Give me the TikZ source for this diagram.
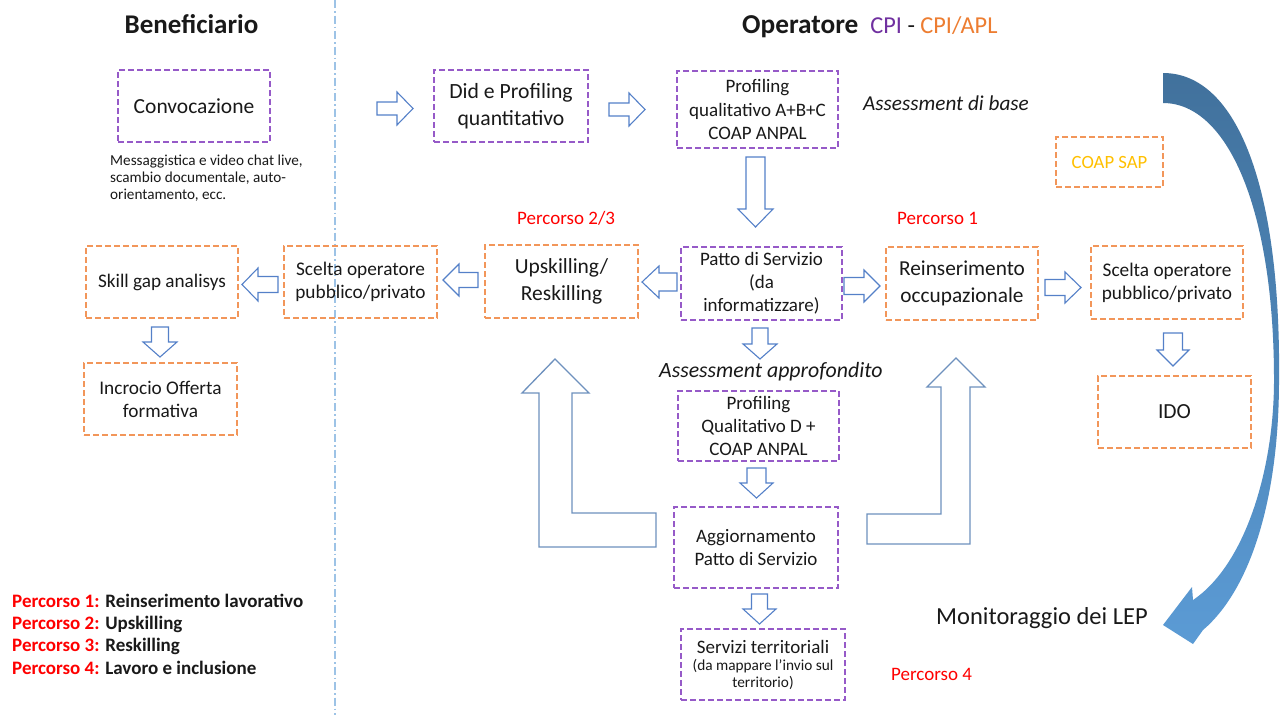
\documentclass[tikz,border=0pt]{standalone}
\usepackage{fontspec}
\setmainfont{Carlito}
\definecolor{boxpurple}{RGB}{150,90,200}
\definecolor{boxorange}{RGB}{242,150,90}
\definecolor{cpipurple}{RGB}{112,48,160}
\definecolor{cpiorange}{RGB}{237,125,49}
\definecolor{coapgold}{RGB}{255,192,0}
\definecolor{pred}{RGB}{255,0,0}
\definecolor{txt}{RGB}{25,25,25}
\definecolor{sepblue}{RGB}{157,195,230}
\definecolor{arrblue}{RGB}{84,128,200}
\definecolor{lblue}{RGB}{110,145,190}
\definecolor{bigdark}{RGB}{65,113,156}
\definecolor{biglight}{RGB}{91,155,213}
\newcommand{\fsz}[2]{\fontsize{#1}{#2}\selectfont}
\newcommand{\harr}[6]{\draw[barrow] (#1,{#3-#5}) -- (#6,{#3-#5}) -- (#6,{#3-#4}) -- (#2,#3) -- (#6,{#3+#4}) -- (#6,{#3+#5}) -- (#1,{#3+#5}) -- cycle;}
\newcommand{\varr}[6]{\draw[barrow] ({#1-#5},#2) -- ({#1-#5},#6) -- ({#1-#4},#6) -- (#1,#3) -- ({#1+#4},#6) -- ({#1+#5},#6) -- ({#1+#5},#2) -- cycle;}
\begin{document}
\begin{tikzpicture}[x=1pt,y=-1pt,
  every node/.style={text=txt},
  pbox/.style={draw=boxpurple, dash pattern=on 6pt off 3pt, line width=1.2pt, align=center, inner sep=0pt},
  obox/.style={draw=boxorange, dash pattern=on 6pt off 3pt, line width=1.2pt, align=center, inner sep=0pt},
  barrow/.style={draw=arrblue, line width=1.1pt, fill=white, line join=miter},
  larrow/.style={draw=lblue, line width=1.3pt, fill=white, line join=miter},
  lbl/.style={inner sep=0pt, anchor=base west}]
\useasboundingbox (0,0) rectangle (1284,715);
\fill[white] (0,0) rectangle (1284,715);

% separator
\draw[sepblue, line width=1.2pt, dash pattern=on 8pt off 3pt on 1.5pt off 3pt] (335,0) -- (335,715);

% titles
\node[lbl, anchor=base, font=\fsz{27}{32}\bfseries] (tben) at (191.5,33) {Beneficiario};
\node[lbl] (top) at (742,33) {\fsz{27.3}{32}\bfseries Operatore\hspace{12pt}\mdseries\fsz{24.3}{29}\textcolor{cpipurple}{CPI} - \textcolor{cpiorange}{CPI/APL}};

% boxes
\node[pbox, minimum width=152pt, minimum height=72pt, font=\fsz{21.5}{26}] (conv) at (194,106) {Convocazione};
\node[pbox, minimum width=154pt, minimum height=72pt, font=\fsz{21.7}{27}] (did) at (511,106) {Did e Profiling\\quantitativo};
\node[pbox, minimum width=161pt, minimum height=77pt, font=\fsz{19}{23.5}] (prof1) at (757.5,109.5) {Profiling\\qualitativo A+B+C\\COAP ANPAL};
\node[obox, minimum width=107pt, minimum height=50pt, font=\fsz{18.7}{22}, text=coapgold] (coap) at (1109.5,162) {COAP SAP};
\node[obox, minimum width=152pt, minimum height=72pt, font=\fsz{19.2}{23}] (skill) at (162,282) {Skill gap analisys};
\node[obox, minimum width=153pt, minimum height=72pt, font=\fsz{19.3}{22.5}] (sceltaL) at (360.5,282) {Scelta operatore\\pubblico/privato};
\node[obox, minimum width=153pt, minimum height=72pt, font=\fsz{19.3}{23}] (incr) at (160.5,399) {Incrocio Offerta\\formativa};
\node[obox, minimum width=153pt, minimum height=73pt, font=\fsz{21.5}{27}] (upsk) at (561.5,281.5) {Upskilling/\\Reskilling};
\node[pbox, minimum width=161pt, minimum height=73pt, font=\fsz{19}{23}] (patto) at (761.5,283.5) {Patto di Servizio\\(da\\informatizzare)};
\node[obox, minimum width=152pt, minimum height=73pt, font=\fsz{21.3}{27}] (reins) at (962,283.5) {Reinserimento\\occupazionale};
\node[obox, minimum width=152pt, minimum height=73pt, font=\fsz{19.3}{23}] (sceltaR) at (1167,282.5) {Scelta operatore\\pubblico/privato};
\node[obox, minimum width=153pt, minimum height=72pt, font=\fsz{21.5}{26}] (ido) at (1174.5,412) {IDO};
\node[pbox, minimum width=161pt, minimum height=70pt, font=\fsz{19}{23}] (prof2) at (758.5,426) {Profiling\\Qualitativo D +\\COAP ANPAL};
\node[pbox, minimum width=164pt, minimum height=81pt, font=\fsz{19}{23}] (aggi) at (756,547.5) {Aggiornamento\\Patto di Servizio};
\node[pbox, minimum width=164pt, minimum height=71pt, font=\fsz{15.3}{17}] (serv) at (763,664.5) {{\fsz{19}{20}Servizi territoriali}\\(da mappare l’invio sul\\territorio)};

% caption under Convocazione
\node[lbl, font=\fsz{15.2}{17}] (cap1) at (110,165) {Messaggistica e video chat live,};
\node[lbl, font=\fsz{15.2}{17}] (cap2) at (110,182) {scambio documentale, auto-};
\node[lbl, font=\fsz{15.2}{17}] (cap3) at (110,199) {orientamento, ecc.};

% labels
\node[lbl, font=\fsz{21.2}{24}\itshape] (abase) at (863,110) {Assessment di base};
\node[lbl, font=\fsz{21.8}{24}\itshape] (aappr) at (659,377) {Assessment approfondito};
\node[lbl, font=\fsz{19}{22}, text=pred] (p23) at (517,224) {Percorso 2/3};
\node[lbl, font=\fsz{19}{22}, text=pred] (p1) at (897,224) {Percorso 1};
\node[lbl, font=\fsz{19}{22}, text=pred] (p4) at (891,680) {Percorso 4};
\node[lbl, font=\fsz{24.5}{28}] (mon) at (936,624) {Monitoraggio dei LEP};

% legend
\node[lbl, font=\fsz{19}{22}\bfseries] (leg1) at (12,607) {\textcolor{pred}{Percorso 1:} Reinserimento lavorativo};
\node[lbl, font=\fsz{19}{22}\bfseries] (leg2) at (12,629) {\textcolor{pred}{Percorso 2:} Upskilling};
\node[lbl, font=\fsz{19}{22}\bfseries] (leg3) at (12,651) {\textcolor{pred}{Percorso 3:} Reskilling};
\node[lbl, font=\fsz{19}{22}\bfseries] (leg4) at (12,674) {\textcolor{pred}{Percorso 4:} Lavoro e inclusione};

% small block arrows (horizontal): tail, tip, cy, half height, half shaft, head base
\harr{377}{413}{108.5}{16.5}{6.5}{397}
\harr{609}{645}{109.5}{16.5}{6.5}{629}
\harr{844}{880}{286}{16}{8.5}{864}
\harr{1045}{1081}{287.5}{15.5}{8}{1065}
\harr{278}{242}{284.5}{16.5}{8}{258}
\harr{478}{443}{280}{16}{7.5}{459}
\harr{677}{642}{282}{16}{9}{659}
% vertical: cx, tail, tip, half width, half shaft, head base
\varr{755.5}{157}{227}{17.5}{9.5}{209}
\varr{160}{327}{357}{17}{8.5}{342}
\varr{1173}{333}{366}{16}{9.5}{350}
\varr{760}{328}{359}{17}{8}{344}
\varr{756.5}{468}{498}{16.5}{9.5}{483}
\varr{759.5}{594}{624}{16.5}{8}{609}

% L-shaped arrows
\draw[larrow] (539,547) -- (656,547) -- (656,513) -- (572,513) -- (572,393) -- (589,393) -- (555,359) -- (522,393) -- (539,393) -- cycle;
\draw[larrow] (867,514) -- (941,514) -- (941,387) -- (927,387) -- (956,358) -- (985,387) -- (970,387) -- (970,544) -- (867,544) -- cycle;

% big curved arrow
\shade[top color=bigdark, middle color=bigdark!70!biglight, bottom color=biglight]
  (1163,73) .. controls (1238,73) and (1281,190) .. (1279,380)
  .. controls (1279,500) and (1250,590) .. (1203,630)
  -- (1193,644) -- (1163,625) -- (1192,587) -- (1193,600)
  .. controls (1245,565) and (1274,470) .. (1274,380)
  .. controls (1274,210) and (1228,103) .. (1163,103) -- cycle;
\end{tikzpicture}
\end{document}
